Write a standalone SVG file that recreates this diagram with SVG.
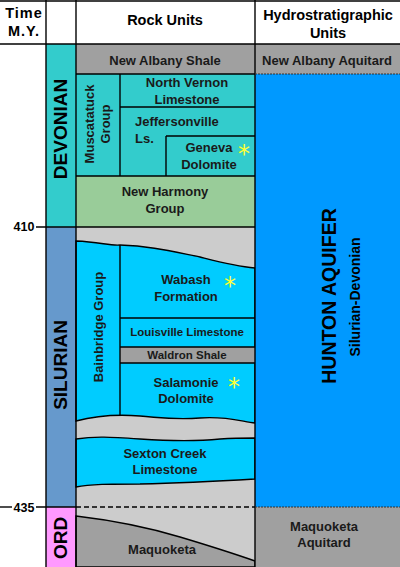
<svg xmlns="http://www.w3.org/2000/svg" width="400" height="567" viewBox="0 0 400 567">
<style>
text{font-family:"Liberation Sans",Arial,sans-serif;font-weight:bold;fill:#1a1a1a;text-anchor:middle}
.h{font-size:14.5px;fill:#000}
.l{font-size:13px}
.s{font-size:11.5px}
.era{font-size:19px;fill:#000}
.ln{stroke:#000;stroke-width:1.4;fill:none}
.gray{fill:#a0a0a0}
.lg{fill:#cccccc}
.ast{font-family:"DejaVu Sans",sans-serif;font-weight:normal;font-size:24px;fill:#ffff33}
.dot{stroke:#333;stroke-width:1;stroke-dasharray:2,1;fill:none}
</style>
<rect x="0" y="0" width="400" height="567" fill="#fff"/>

<g id="header">
<text class="h" x="24" y="18" letter-spacing="1">Time</text>
<text class="h" x="24" y="36" letter-spacing="1">M.Y.</text>
<text class="h" x="165" y="25">Rock Units</text>
<text class="h" x="328" y="20">Hydrostratigraphic</text>
<text class="h" x="328" y="38">Units</text>
</g>

<g id="eras">
<rect x="46" y="44" width="30" height="183" fill="#33cccc"/>
<rect x="46" y="227" width="30" height="280" fill="#6699cc"/>
<rect x="46" y="507" width="30" height="60" fill="#ff99ff"/>
<text class="era" transform="translate(67,129) rotate(-90)">DEVONIAN</text>
<text class="era" transform="translate(67,365) rotate(-90)">SILURIAN</text>
<text class="era" transform="translate(67,538) rotate(-90)">ORD</text>
</g>

<g id="new-albany-shale">
<rect class="gray" x="76" y="44" width="179" height="30"/>
<text class="l" x="165" y="64.5">New Albany Shale</text>
</g>

<g id="muscatatuck-group">
<rect x="76" y="74" width="179" height="102" fill="#33cccc"/>
<text class="l" transform="translate(94,124) rotate(-90)">Muscatatuck</text>
<text class="l" transform="translate(110,124) rotate(-90)">Group</text>
</g>

<g id="north-vernon">
<text class="l" x="187" y="87">North Vernon</text>
<text class="l" x="187" y="104">Limestone</text>
</g>

<g id="jeffersonville">
<text class="l" x="135" y="126" style="text-anchor:start">Jeffersonville</text>
<text class="l" x="135" y="143" style="text-anchor:start">Ls.</text>
</g>

<g id="geneva">
<text class="l" x="209" y="152">Geneva</text>
<text class="l" x="209" y="169">Dolomite</text>
<text class="ast" x="244" y="161.5">*</text>
</g>

<g id="new-harmony">
<rect x="76" y="176" width="179" height="51" fill="#99cc99"/>
<text class="l" x="165" y="196">New Harmony</text>
<text class="l" x="165" y="212.5">Group</text>
</g>

<g id="silurian-rocks">
<rect class="lg" x="76" y="227" width="179" height="340"/>
<path d="M76,241 C100,242 110,246 120,245 C150,246 170,251 200,257 C220,262 235,266 255,268 L255,423 C240,421 225,416 200,418 C175,420 165,418 140,416 C115,414 95,416 76,421 Z" fill="#00ccff" stroke="#000" stroke-width="1.4"/>
<path d="M76,439 C95,436 110,437 140,439 C170,441 200,441 220,439 C235,438 245,438 255,438 L255,479 C220,481 180,483 140,484 C110,484 90,484 76,487 Z" fill="#00ccff" stroke="#000" stroke-width="1.4"/>
<path d="M76,516 C110,520 150,528 180,537 C210,546 235,554 255,561 L255,567 L76,567 Z" class="gray" stroke="#000" stroke-width="1.4"/>
</g>

<g id="bainbridge-group">
<text class="l" transform="translate(103,327) rotate(-90)">Bainbridge Group</text>
</g>

<g id="wabash">
<text class="l" x="186" y="284">Wabash</text>
<text class="l" x="186" y="300.5">Formation</text>
<text class="ast" x="230" y="293.5">*</text>
</g>

<g id="louisville">
<text class="s" x="187" y="335.5">Louisville Limestone</text>
</g>

<g id="waldron">
<rect class="gray" x="120" y="347" width="135" height="16"/>
<text class="s" x="187" y="359">Waldron Shale</text>
</g>

<g id="salamonie">
<text class="l" x="186" y="386.5">Salamonie</text>
<text class="l" x="186" y="402.5">Dolomite</text>
<text class="ast" x="234" y="394.5">*</text>
</g>

<g id="sexton-creek">
<text class="l" x="165" y="458">Sexton Creek</text>
<text class="l" x="165" y="474">Limestone</text>
</g>

<g id="maquoketa">
<text class="l" x="162" y="553.5">Maquoketa</text>
</g>

<g id="new-albany-aquitard">
<rect class="gray" x="255" y="44" width="145" height="30"/>
<text class="l" x="327" y="64.5">New Albany Aquitard</text>
</g>

<g id="hunton-aquifer">
<rect x="255" y="74" width="145" height="433" fill="#0099ff"/>
<text class="era" style="font-size:19.5px" transform="translate(336,296) rotate(-90)">HUNTON AQUIFER</text>
<text transform="translate(360,297) rotate(-90)" style="font-size:14px;fill:#000">Silurian-Devonian</text>
</g>

<g id="maquoketa-aquitard">
<rect class="gray" x="255" y="507" width="145" height="60"/>
<text class="l" x="324" y="531">Maquoketa</text>
<text class="l" x="324" y="546.5">Aquitard</text>
</g>

<g id="time-marks">
<text class="l" style="font-size:12.5px;fill:#000" x="24" y="231">410</text>
<text class="l" style="font-size:12.5px;fill:#000" x="24" y="511.5">435</text>
</g>

<g id="connectors">
<line class="ln" x1="0" y1="1" x2="400" y2="1"/>
<line class="ln" x1="0" y1="44" x2="400" y2="44"/>
<line class="ln" x1="46" y1="0" x2="46" y2="567"/>
<line class="ln" x1="76" y1="0" x2="76" y2="567"/>
<line class="ln" x1="255" y1="0" x2="255" y2="567"/>
<line class="ln" x1="76" y1="74" x2="255" y2="74"/>
<line class="ln" x1="120" y1="74" x2="120" y2="176"/>
<line class="ln" x1="120" y1="107" x2="255" y2="107"/>
<line class="ln" x1="166" y1="136" x2="255" y2="136"/>
<line class="ln" x1="166" y1="136" x2="166" y2="176"/>
<line class="ln" x1="76" y1="176" x2="255" y2="176"/>
<line class="ln" x1="36" y1="227" x2="255" y2="227"/>
<line class="ln" x1="120" y1="245" x2="120" y2="416"/>
<line class="ln" x1="120" y1="318" x2="255" y2="318"/>
<line class="ln" x1="120" y1="347" x2="255" y2="347"/>
<line class="ln" x1="120" y1="363" x2="255" y2="363"/>
<line class="ln" x1="0" y1="507" x2="12" y2="507"/>
<line class="ln" x1="36" y1="507" x2="76" y2="507"/>
<line class="ln" x1="76" y1="507" x2="255" y2="507" stroke-dasharray="5,3"/>
<line class="dot" x1="255" y1="74" x2="400" y2="74"/>
<line class="dot" x1="255" y1="507" x2="400" y2="507"/>
</g>
</svg>
